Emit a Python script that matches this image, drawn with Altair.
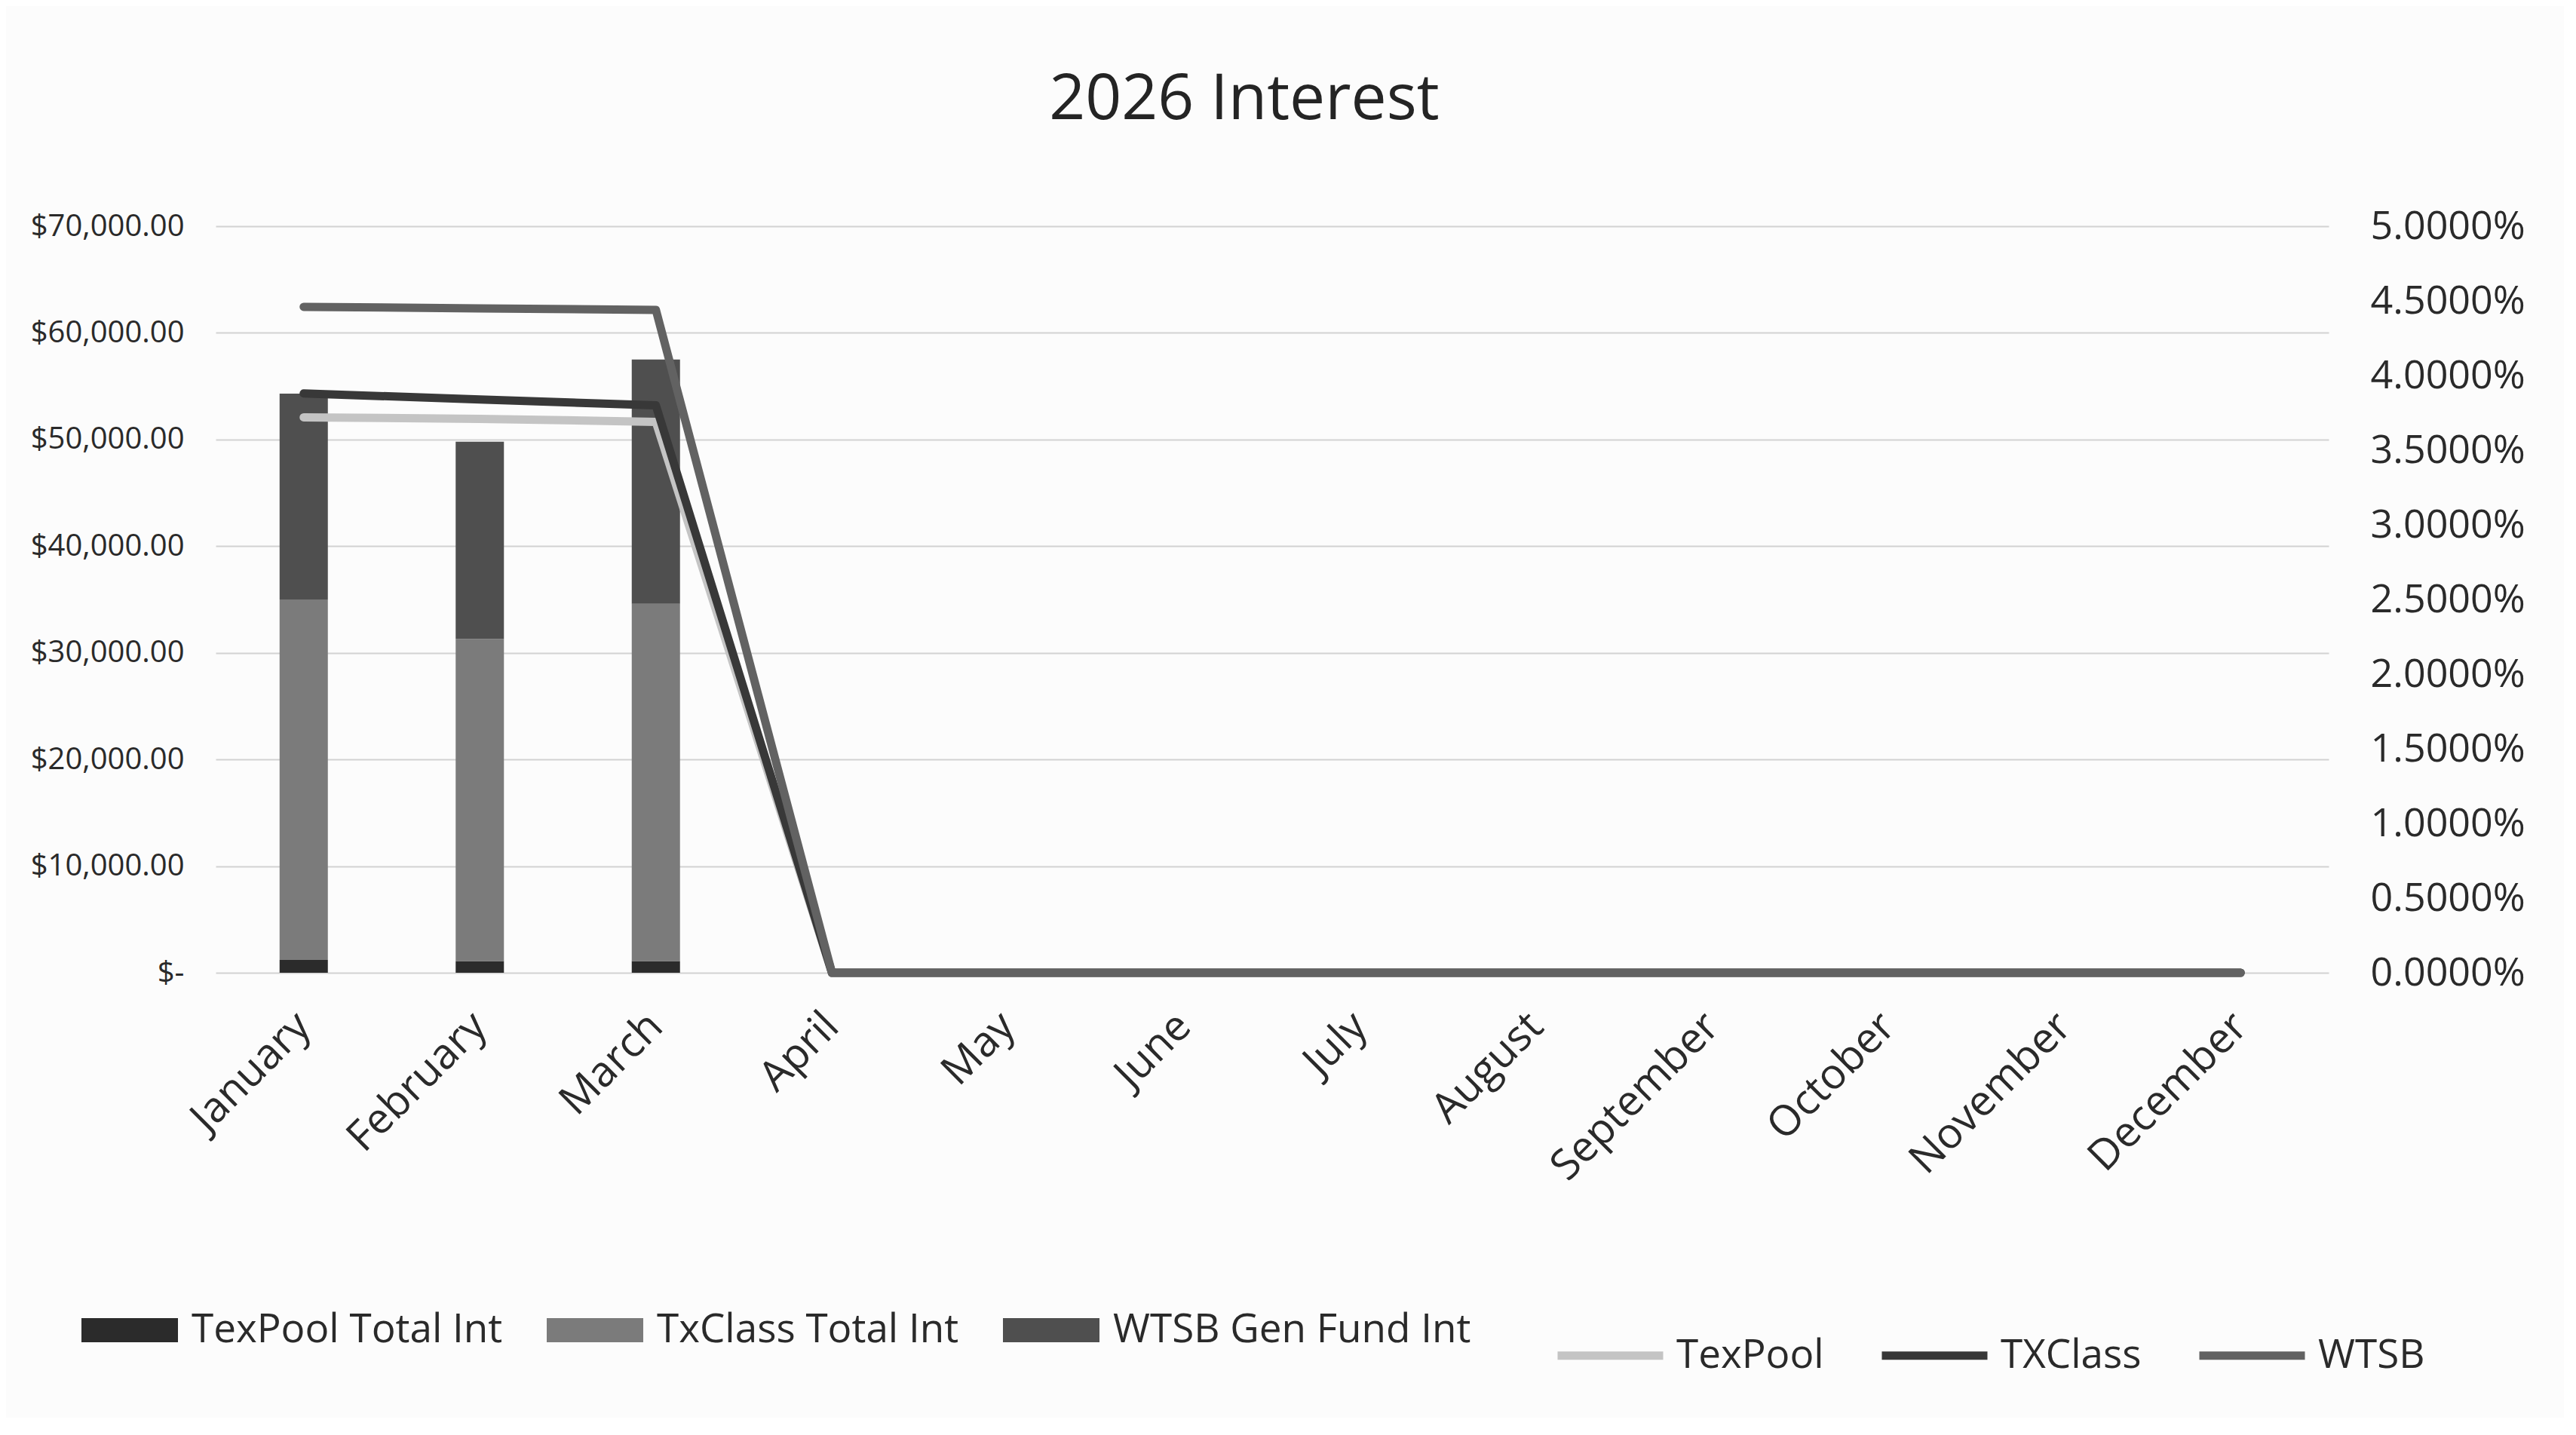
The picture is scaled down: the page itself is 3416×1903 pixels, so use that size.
import altair as alt
import pandas as pd

months = ["January", "February", "March", "April", "May", "June", "July",
          "August", "September", "October", "November", "December"]

bar_series = ["TexPool Total Int", "TxClass Total Int", "WTSB Gen Fund Int"]
texpool_total_int = [1200, 1100, 1100, 0, 0, 0, 0, 0, 0, 0, 0, 0]
txclass_total_int = [33800, 30200, 33500, 0, 0, 0, 0, 0, 0, 0, 0, 0]
wtsb_gen_fund_int = [19300, 18500, 22900, 0, 0, 0, 0, 0, 0, 0, 0, 0]
bar_colors = ["#2b2b2b", "#7b7b7b", "#4f4f4f"]

line_series = ["TexPool", "TXClass", "WTSB"]
texpool_rate = [0.0372, 0.0371, 0.0369, 0, 0, 0, 0, 0, 0, 0, 0, 0]
txclass_rate = [0.0388, 0.0384, 0.0380, 0, 0, 0, 0, 0, 0, 0, 0, 0]
wtsb_rate = [0.0446, 0.0445, 0.0444, 0, 0, 0, 0, 0, 0, 0, 0, 0]
line_colors = ["#c4c4c4", "#383838", "#626262"]

left_ticks = [0, 10000, 20000, 30000, 40000, 50000, 60000, 70000]
right_ticks = [0, 0.005, 0.01, 0.015, 0.02, 0.025, 0.03, 0.035, 0.04, 0.045, 0.05]

FONT = "Open Sans"
TEXT = "#2a2a2a"

bar_rows = []
for k, (name, vals) in enumerate(zip(bar_series, [texpool_total_int, txclass_total_int, wtsb_gen_fund_int])):
    for m, v in zip(months, vals):
        bar_rows.append({"Month": m, "Fund": name, "Amount": v, "Ord": k})
bar_df = pd.DataFrame(bar_rows)

line_rows = []
for k, (name, vals) in enumerate(zip(line_series, [texpool_rate, txclass_rate, wtsb_rate])):
    for m, v in zip(months, vals):
        line_rows.append({"Month": m, "Series": name, "Rate": v, "Ord": k})
line_df = pd.DataFrame(line_rows)

x_enc = alt.X(
    "Month:N",
    sort=months,
    scale=alt.Scale(domain=months, paddingInner=0, paddingOuter=0),
    axis=alt.Axis(
        title=None, domain=False, ticks=False, grid=False,
        labelAngle=315, labelAlign="right", labelBaseline="middle",
        labelFont=FONT, labelFontSize=56, labelColor=TEXT,
        labelPadding=62, labelOverlap=False, labelLimit=800,
    ),
)

bars = alt.Chart(bar_df).mark_bar(size=64).encode(
    x=x_enc,
    y=alt.Y(
        "Amount:Q",
        stack="zero",
        scale=alt.Scale(domain=[0, 70000], nice=False, zero=True),
        axis=alt.Axis(
            orient="left", title=None, values=left_ticks,
            labelExpr="datum.value == 0 ? '$-\u00a0\u00a0' : '$' + format(datum.value, ',.2f')",
            domain=False, ticks=False, grid=True, gridColor="#d2d2d2", gridWidth=2,
            labelFont=FONT, labelFontSize=40, labelColor=TEXT, labelPadding=42,
            labelOverlap=False, labelLimit=800, labelFlush=False,
        ),
    ),
    color=alt.Color(
        "Fund:N",
        sort=bar_series,
        scale=alt.Scale(domain=bar_series, range=bar_colors),
        legend=alt.Legend(
            title=None, orient="none", direction="horizontal",
            legendX=-178, legendY=1400,
            symbolType="M-1,-0.25H1V0.25H-1Z", symbolSize=16384,
            symbolStrokeWidth=0, symbolOpacity=1,
            labelFont=FONT, labelFontSize=53, labelColor=TEXT,
            labelOffset=18, columnPadding=58, labelLimit=800,
        ),
    ),
    order=alt.Order("Ord:Q"),
)

lines = alt.Chart(line_df).mark_line(strokeWidth=11, strokeCap="round", strokeJoin="round").encode(
    x=x_enc,
    y=alt.Y(
        "Rate:Q",
        scale=alt.Scale(domain=[0, 0.05], nice=False, zero=True),
        axis=alt.Axis(
            orient="right", title=None, values=right_ticks, format=".4%",
            domain=False, ticks=False, grid=False,
            labelFont=FONT, labelFontSize=52, labelColor=TEXT, labelPadding=55,
            labelOverlap=False, labelLimit=800, labelFlush=False,
        ),
    ),
    stroke=alt.Stroke(
        "Series:N",
        sort=line_series,
        scale=alt.Scale(domain=line_series, range=line_colors),
        legend=alt.Legend(
            title=None, orient="none", direction="horizontal",
            legendX=1774, legendY=1422,
            symbolType="stroke", symbolSize=19600, symbolStrokeWidth=11,
            labelFont=FONT, labelFontSize=53, labelColor=TEXT,
            labelOffset=12, columnPadding=54, labelLimit=800,
        ),
    ),
    order=alt.Order("Ord:Q"),
)

chart = (
    alt.layer(bars, lines)
    .resolve_scale(y="independent", color="independent", stroke="independent")
    .properties(
        width=2802,
        height=990,
        autosize=alt.AutoSizeParams(type="none"),
        padding={"left": 278, "top": 292, "right": 312, "bottom": 590},
        background="#fcfcfc",
        title=alt.TitleParams(
            "2026 Interest", font=FONT, fontSize=84, fontWeight="normal",
            color="#242424", anchor="middle", frame="group", dx=-37,
            baseline="alphabetic", offset=32,
        ),
    )
    .configure_view(stroke=None)
)

chart.save("out.html", embed_options={"renderer": "svg", "actions": False})
